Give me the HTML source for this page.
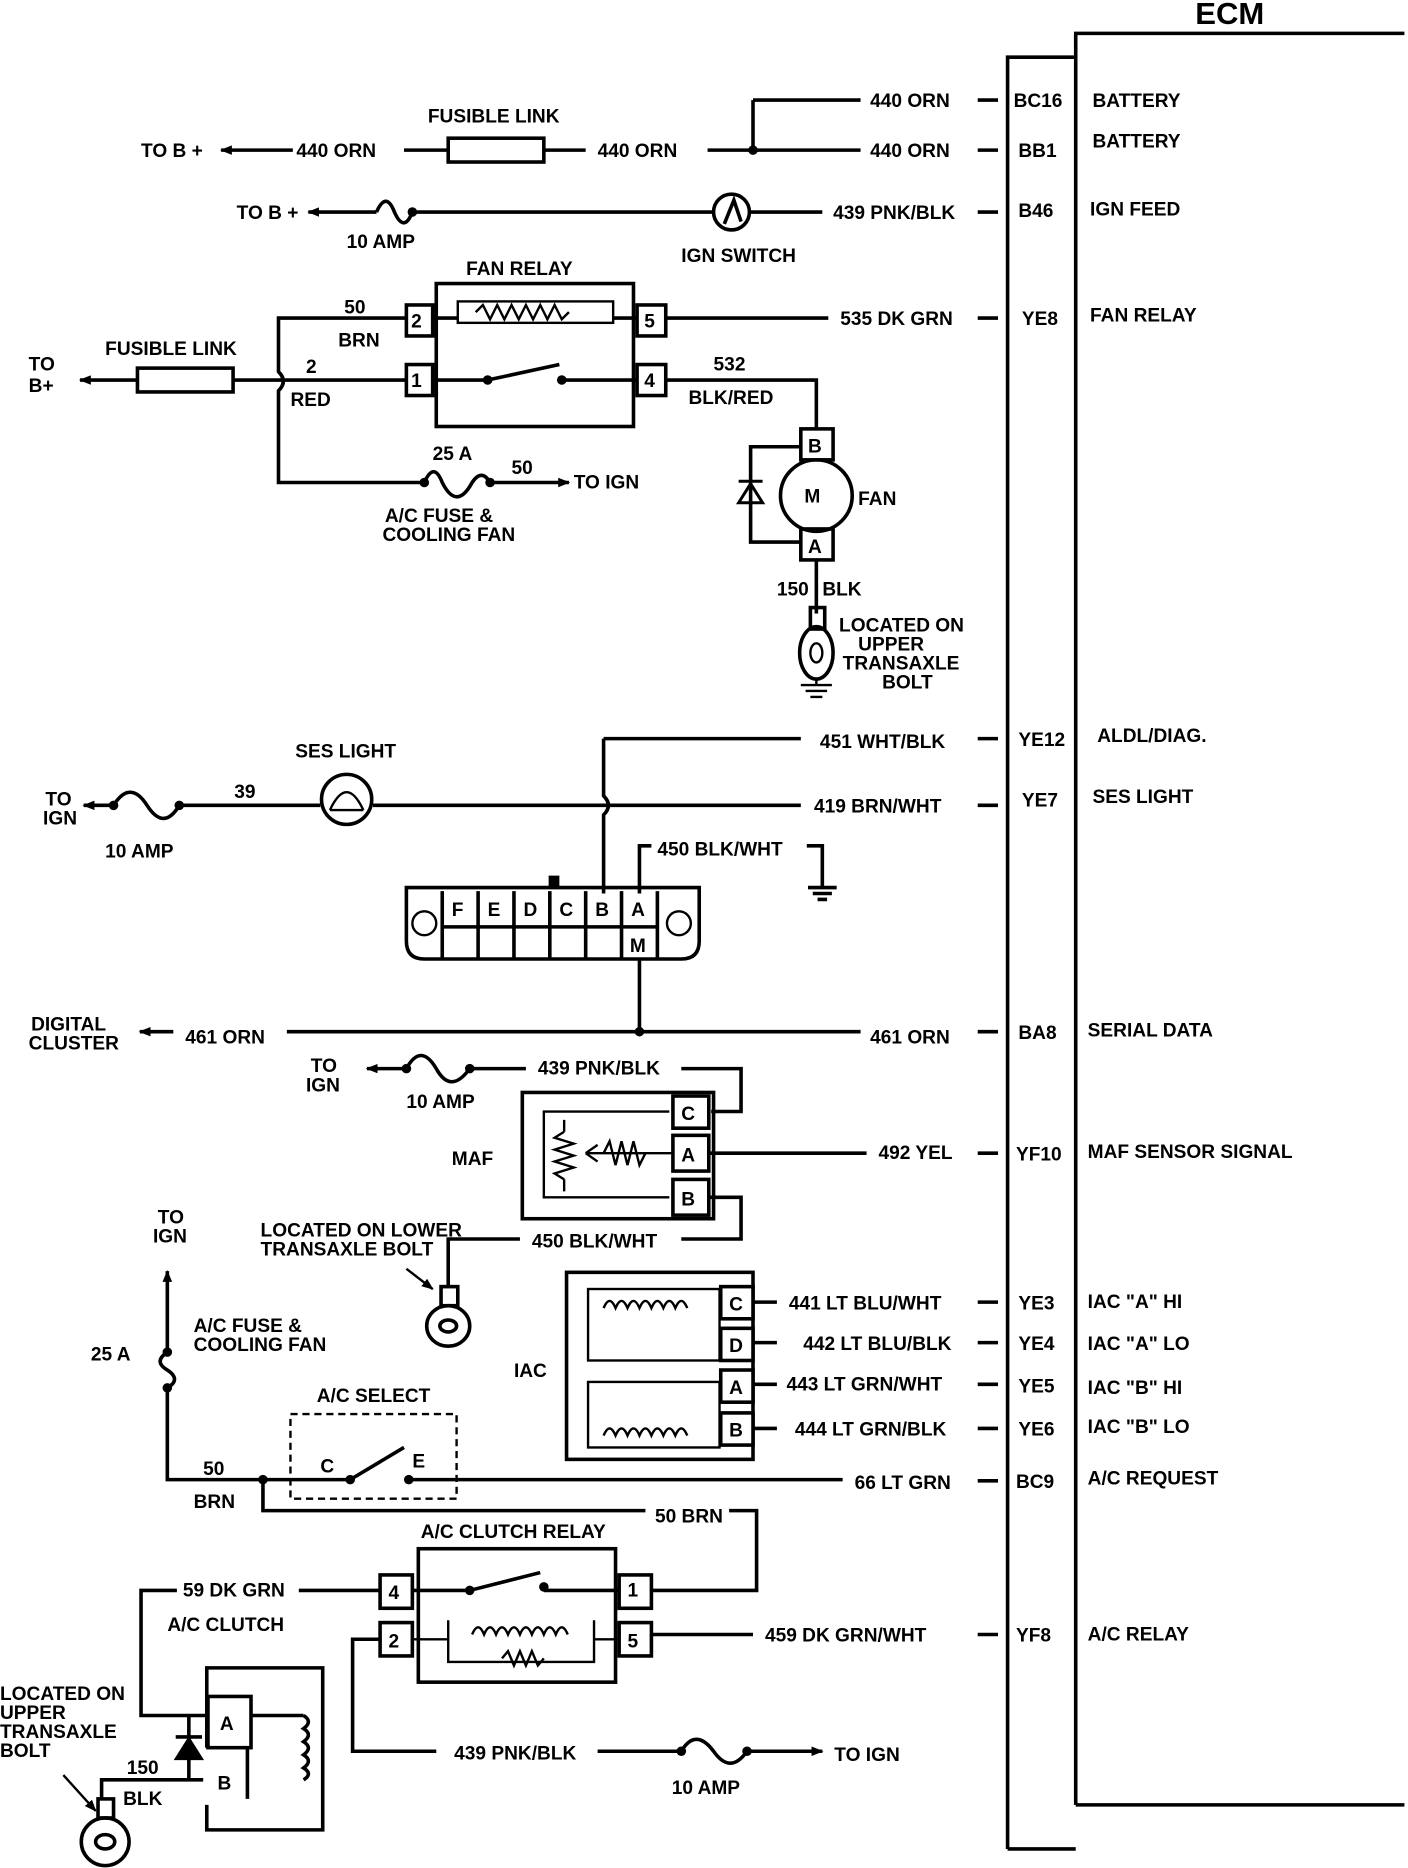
<!DOCTYPE html>
<html><head><meta charset="utf-8"><style>
html,body{margin:0;padding:0;background:#fff;}
svg{display:block;}
text{font-family:"Liberation Sans",sans-serif;font-weight:bold;font-size:16px;fill:#000;}
</style></head><body>
<svg width="1408" height="1868" viewBox="0 0 1178 1568" preserveAspectRatio="none" xmlns="http://www.w3.org/2000/svg">
<defs>
<marker id="ar" markerWidth="10" markerHeight="8" refX="9" refY="4" orient="auto" markerUnits="userSpaceOnUse"><path d="M0,0 L10,4 L0,8 Z" fill="#000"/></marker>
</defs>
<g stroke="#000" stroke-width="3" fill="none">
<!-- ECM -->
<path d="M843,1552 V48 H900"/>
<path d="M900,1515 V28 H1175"/>
<path d="M900,1515 H1175"/>
<path d="M843,1552 H900"/>
<!-- pin stubs -->
<path d="M818,84H835 M818,126H835 M818,178H835 M818,267H835 M818,620H835 M818,676H835 M818,866H835 M818,968H835 M818,1093H835 M818,1127H835 M818,1162H835 M818,1199H835 M818,1243H835 M818,1372H835"/>
<!-- row 1/2 -->
<path d="M630,84H720 M630,84V126"/>
<path d="M245,126H185" marker-end="url(#ar)"/>
<path d="M338,126H375 M455,126H490 M592,126H720"/>
<rect x="375" y="116" width="80" height="20"/>
<!-- row 3 -->
<path d="M315,178H258" marker-end="url(#ar)"/>
<path d="M315,178 q8,-18 15,0 q8,18 15,0"/>
<path d="M345,178H597 M627,178H688"/>
<circle cx="612" cy="178" r="15"/>
<path d="M606,188 L614,168 L620,186"/>
<!-- fan relay -->
<rect x="365" y="238" width="165" height="120"/>
<rect x="340" y="256" width="22" height="26"/><rect x="533" y="256" width="24" height="26"/>
<rect x="340" y="306" width="22" height="26"/><rect x="533" y="306" width="24" height="26"/>
<path d="M362,267H383 M513,267H533 M362,319H408 M470,319H533"/>
<rect x="383" y="253" width="130" height="18" stroke-width="2"/>
<path d="M398,262 l6,-6 6,12 6,-12 6,12 6,-12 6,12 6,-12 6,12 6,-12 6,12 6,-12 6,12 6,-6" stroke-width="2"/>
<path d="M408,319 L468,306"/>
<path d="M340,267H233V312 q8,8 0,16 V405H355"/>
<path d="M340,319H195"/>
<path d="M115,319H67" marker-end="url(#ar)"/>
<rect x="115" y="309" width="80" height="20"/>
<path d="M355,405 q8,-18 15,0 q12,24 25,0 q8,-12 15,0"/>
<path d="M410,405H476" marker-end="url(#ar)"/>
<path d="M557,267H693 M557,319H683V360"/>
<!-- fan -->
<rect x="670" y="360" width="27" height="26"/>
<circle cx="683" cy="416" r="30"/>
<rect x="670" y="444" width="27" height="26"/>
<path d="M670,375H628V455H670"/>
<path d="M618,404H638 M618,422H638 L628,406 Z" stroke-width="2.5"/>
<path d="M683,470V515"/>
<rect x="678" y="510" width="12" height="18"/>
<ellipse cx="683" cy="548" rx="14" ry="22"/>
<ellipse cx="683" cy="548" rx="5" ry="8" stroke-width="2"/>
<path d="M683,570V575 M670,575H696 M674,580H692 M678,585H688" stroke-width="2"/>
<!-- SES -->
<path d="M505,620H670 M505,620V668 q8,8 0,16 V750"/>
<path d="M95,676H70" marker-end="url(#ar)"/>
<path d="M95,676 q14,-22 28,0 q14,22 27,0"/>
<path d="M150,676H268 M312,676H670"/>
<circle cx="290" cy="671" r="21"/>
<path d="M276,680 q14,-30 28,0 M276,680H304" stroke-width="2"/>
<!-- DLC -->
<path d="M340,745H585V790 q0,15 -15,15 H355 q-15,0 -15,-15 Z"/>
<path d="M370,748V805 M400,748V805 M430,748V805 M460,748V805 M490,748V805 M520,748V805 M550,748V805 M370,778H550"/>
<circle cx="355" cy="775" r="10" stroke-width="2"/><circle cx="568" cy="775" r="10" stroke-width="2"/>
<path d="M535,750V710H545 M675,710H688V745 M676,745H700 M680,750H696 M684,755H692"/>
<path d="M535,805V866 M240,866H720"/>
<path d="M145,866H117" marker-end="url(#ar)"/>
<!-- MAF -->
<path d="M340,897H307" marker-end="url(#ar)"/>
<path d="M340,897 q12,-22 25,0 q12,22 28,0 H440 M570,897H620V933H595"/>
<rect x="437" y="917" width="160" height="106"/>
<path d="M560,933H455V1005H560" stroke-width="2"/>
<rect x="563" y="920" width="30" height="27"/><rect x="563" y="953" width="30" height="30"/><rect x="563" y="990" width="30" height="30"/>
<path d="M593,968H725"/>
<path d="M472,950 l-8,5 16,5 -16,5 16,5 -16,5 16,5 -16,5 8,5 M472,940V950 M472,990V1000 M490,968H563 M490,968 l10,-7 M490,968 l10,7 M505,968 l5,-10 5,20 5,-20 5,20 5,-20 5,20 5,-10" stroke-width="2"/>
<path d="M593,1005H620V1040H570 M435,1040H375V1080"/>
<rect x="369" y="1080" width="14" height="16"/>
<ellipse cx="375" cy="1113" rx="18" ry="17"/><ellipse cx="375" cy="1113" rx="7" ry="5"/>
<path d="M340,1065L362,1082" marker-end="url(#ar)" stroke-width="2"/>
<!-- IAC -->
<rect x="474" y="1068" width="156" height="157"/>
<rect x="492" y="1082" width="110" height="60" stroke-width="2"/>
<rect x="492" y="1160" width="110" height="55" stroke-width="2"/>
<path d="M505,1098 q5,-12 10,0 q5,-12 10,0 q5,-12 10,0 q5,-12 10,0 q5,-12 10,0 q5,-12 10,0 q5,-12 10,0" stroke-width="2"/>
<path d="M505,1205 q5,-12 10,0 q5,-12 10,0 q5,-12 10,0 q5,-12 10,0 q5,-12 10,0 q5,-12 10,0 q5,-12 10,0" stroke-width="2"/>
<rect x="603" y="1080" width="27" height="27" fill="#fff"/><rect x="603" y="1115" width="27" height="27" fill="#fff"/>
<rect x="603" y="1150" width="27" height="27" fill="#fff"/><rect x="603" y="1186" width="27" height="27" fill="#fff"/>
<path d="M630,1093H650 M630,1127H650 M630,1162H650 M630,1199H650"/>
<!-- AC select -->
<path d="M140,1135V1067" marker-end="url(#ar)"/>
<path d="M140,1135 q-12,8 0,15 q12,8 0,15 V1242H295 M342,1242H705"/>
<path d="M293,1242 L338,1215"/>
<rect x="243" y="1187" width="139" height="71" stroke-width="2" stroke-dasharray="6,4"/>
<path d="M220,1242V1268H540 M610,1268H633V1335H545"/>
<!-- AC clutch relay -->
<rect x="350" y="1300" width="165" height="112"/>
<rect x="318" y="1322" width="27" height="28"/><rect x="518" y="1322" width="27" height="28"/>
<rect x="318" y="1362" width="27" height="28"/><rect x="518" y="1362" width="27" height="28"/>
<path d="M345,1335H393 M455,1335H518 M393,1335L452,1320"/>
<path d="M345,1376H375 M497,1376H518 M375,1360V1395H497V1360" stroke-width="2"/>
<path d="M395,1372 q5,-12 10,0 q5,-12 10,0 q5,-12 10,0 q5,-12 10,0 q5,-12 10,0 q5,-12 10,0 q5,-12 10,0 q5,-12 10,0" stroke-width="2"/>
<path d="M420,1392 l5,-6 5,12 5,-12 5,12 5,-12 5,12 5,-6" stroke-width="2"/>
<path d="M545,1372H630"/>
<path d="M318,1335H250 M148,1335H118V1440H174 M318,1376H295V1470H365 M500,1470H570"/>
<path d="M570,1470 q12,-20 27,0 q14,20 28,0 H688" marker-end="url(#ar)"/>
<!-- clutch -->
<path d="M173,1467V1400H270V1536H173V1515"/>
<rect x="174" y="1424" width="36" height="43" fill="#fff"/>
<path d="M207,1467V1510 M210,1440H254 M254,1440 q8,5 0,11 q8,5 0,11 q8,5 0,11 q8,5 0,11 q8,5 0,10"/>
<path d="M158,1440V1494 M85,1510V1494H170"/>
<path d="M147,1458H169 M148,1476H168 L158,1460 Z" fill="#000"/>
<rect x="82" y="1510" width="13" height="16"/>
<ellipse cx="88" cy="1546" rx="20" ry="20"/><ellipse cx="88" cy="1546" rx="8" ry="6"/>
<path d="M53,1490L80,1520" marker-end="url(#ar)" stroke-width="2"/>
</g>
<g fill="#000">
<circle cx="630" cy="126" r="4"/><circle cx="345" cy="178" r="4"/>
<circle cx="408" cy="319" r="4"/><circle cx="470" cy="319" r="4"/>
<circle cx="355" cy="405" r="4"/><circle cx="410" cy="405" r="4"/>
<circle cx="95" cy="676" r="4"/><circle cx="150" cy="676" r="4"/>
<circle cx="535" cy="866" r="4"/><circle cx="340" cy="897" r="4"/><circle cx="393" cy="897" r="4"/>
<circle cx="140" cy="1135" r="4"/><circle cx="140" cy="1165" r="4"/>
<circle cx="220" cy="1242" r="4"/><circle cx="293" cy="1242" r="4"/><circle cx="342" cy="1242" r="4"/>
<circle cx="393" cy="1335" r="4"/><circle cx="455" cy="1332" r="4"/>
<circle cx="570" cy="1470" r="4"/><circle cx="625" cy="1470" r="4"/>
<rect x="459" y="735" width="9" height="10"/>
</g>
<text x="1000" y="20" style="font-size:26px">ECM</text>
<g>
<text x="848" y="90">BC16</text><text x="852" y="132">BB1</text><text x="852" y="182">B46</text>
<text x="855" y="273">YE8</text><text x="852" y="626">YE12</text><text x="855" y="677">YE7</text>
<text x="852" y="872">BA8</text><text x="850" y="974">YF10</text><text x="852" y="1099">YE3</text>
<text x="852" y="1133">YE4</text><text x="852" y="1169">YE5</text><text x="852" y="1205">YE6</text>
<text x="850" y="1249">BC9</text><text x="850" y="1378">YF8</text>
<text x="914" y="90">BATTERY</text><text x="914" y="124">BATTERY</text><text x="912" y="181">IGN FEED</text>
<text x="912" y="270">FAN RELAY</text><text x="918" y="623">ALDL/DIAG.</text><text x="914" y="674">SES LIGHT</text>
<text x="910" y="870">SERIAL DATA</text><text x="910" y="972">MAF SENSOR SIGNAL</text>
<text x="910" y="1098">IAC "A" HI</text><text x="910" y="1133">IAC "A" LO</text><text x="910" y="1170">IAC "B" HI</text>
<text x="910" y="1203">IAC "B" LO</text><text x="910" y="1246">A/C REQUEST</text><text x="910" y="1377">A/C RELAY</text>
<text x="728" y="90">440 ORN</text><text x="728" y="132">440 ORN</text><text x="697" y="184">439 PNK/BLK</text>
<text x="703" y="273">535 DK GRN</text><text x="686" y="628">451 WHT/BLK</text><text x="681" y="682">419 BRN/WHT</text>
<text x="728" y="876">461 ORN</text><text x="735" y="973">492 YEL</text>
<text x="660" y="1099">441 LT BLU/WHT</text><text x="672" y="1133">442 LT BLU/BLK</text>
<text x="658" y="1167">443 LT GRN/WHT</text><text x="665" y="1205">444 LT GRN/BLK</text>
<text x="715" y="1250">66 LT GRN</text><text x="640" y="1378">459 DK GRN/WHT</text>
<text x="118" y="132">TO B +</text><text x="248" y="132">440 ORN</text><text x="358" y="103">FUSIBLE LINK</text><text x="500" y="132">440 ORN</text>
<text x="198" y="184">TO B +</text><text x="290" y="208">10 AMP</text><text x="570" y="220">IGN SWITCH</text>
<text x="390" y="231">FAN RELAY</text><text x="344" y="275">2</text><text x="539" y="275">5</text><text x="344" y="325">1</text><text x="539" y="325">4</text>
<text x="288" y="263">50</text><text x="283" y="291">BRN</text><text x="88" y="298">FUSIBLE LINK</text>
<text x="24" y="311">TO</text><text x="24" y="329">B+</text><text x="256" y="313">2</text><text x="243" y="341">RED</text>
<text x="362" y="386">25 A</text><text x="428" y="398">50</text><text x="480" y="410">TO IGN</text>
<text x="322" y="438">A/C FUSE &amp;</text><text x="320" y="454">COOLING FAN</text>
<text x="597" y="311">532</text><text x="576" y="339">BLK/RED</text>
<text x="676" y="380">B</text><text x="676" y="464">A</text><text x="673" y="422">M</text><text x="718" y="424">FAN</text>
<text x="650" y="500">150</text><text x="688" y="500">BLK</text>
<text x="702" y="530">LOCATED ON</text><text x="718" y="546">UPPER</text><text x="705" y="562">TRANSAXLE</text><text x="738" y="578">BOLT</text>
<text x="247" y="636">SES LIGHT</text><text x="38" y="676">TO</text><text x="36" y="692">IGN</text><text x="196" y="670">39</text><text x="88" y="720">10 AMP</text>
<text x="550" y="718">450 BLK/WHT</text>
<text x="378" y="769">F</text><text x="408" y="769">E</text><text x="438" y="769">D</text><text x="468" y="769">C</text><text x="498" y="769">B</text><text x="528" y="769">A</text><text x="527" y="799">M</text>
<text x="26" y="865">DIGITAL</text><text x="24" y="881">CLUSTER</text><text x="155" y="876">461 ORN</text>
<text x="260" y="900">TO</text><text x="256" y="916">IGN</text><text x="340" y="930">10 AMP</text><text x="450" y="902">439 PNK/BLK</text>
<text x="378" y="978">MAF</text><text x="570" y="940">C</text><text x="570" y="975">A</text><text x="570" y="1012">B</text>
<text x="445" y="1047">450 BLK/WHT</text><text x="218" y="1038">LOCATED ON LOWER</text><text x="218" y="1054">TRANSAXLE BOLT</text>
<text x="610" y="1100">C</text><text x="610" y="1135">D</text><text x="610" y="1170">A</text><text x="610" y="1206">B</text><text x="430" y="1156">IAC</text>
<text x="132" y="1027">TO</text><text x="128" y="1043">IGN</text><text x="76" y="1142">25 A</text>
<text x="162" y="1118">A/C FUSE &amp;</text><text x="162" y="1134">COOLING FAN</text>
<text x="265" y="1177">A/C SELECT</text><text x="268" y="1236">C</text><text x="345" y="1232">E</text>
<text x="170" y="1238">50</text><text x="162" y="1266">BRN</text><text x="548" y="1278">50 BRN</text>
<text x="352" y="1291">A/C CLUTCH RELAY</text>
<text x="325" y="1342">4</text><text x="525" y="1340">1</text><text x="325" y="1383">2</text><text x="525" y="1383">5</text>
<text x="153" y="1340">59 DK GRN</text><text x="140" y="1369">A/C CLUTCH</text>
<text x="380" y="1477">439 PNK/BLK</text><text x="698" y="1478">TO IGN</text><text x="562" y="1506">10 AMP</text>
<text x="184" y="1452">A</text><text x="182" y="1502">B</text><text x="106" y="1489">150</text><text x="103" y="1515">BLK</text>
<text x="0" y="1427">LOCATED ON</text><text x="0" y="1443">UPPER</text><text x="0" y="1459">TRANSAXLE</text><text x="0" y="1475">BOLT</text>
</g>
</svg>
</body></html>
